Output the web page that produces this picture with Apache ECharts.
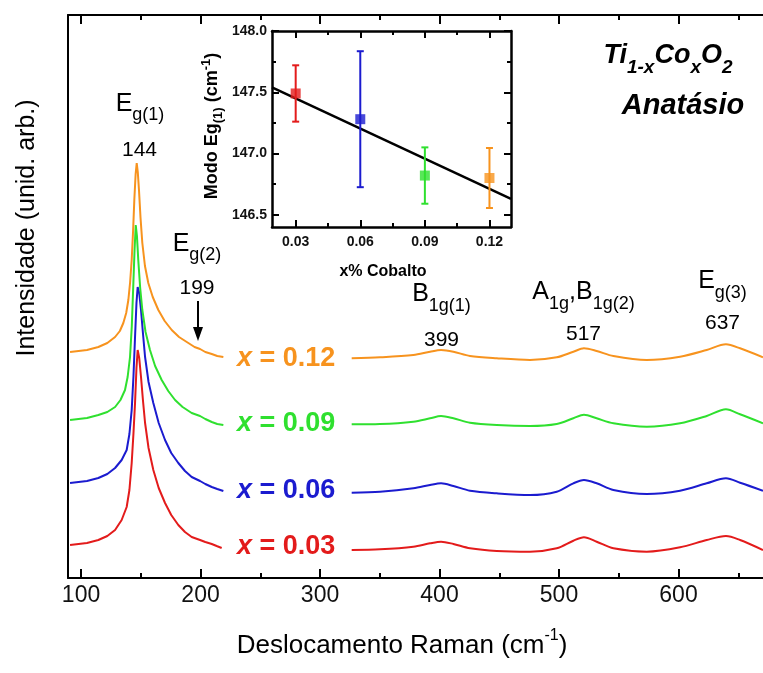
<!DOCTYPE html>
<html><head><meta charset="utf-8">
<script src="https://cdn.jsdelivr.net/npm/echarts@6/dist/echarts.min.js"></script>
<style>html,body{margin:0;padding:0;background:#fff}#c{width:763px;height:673px}</style>
</head><body><div id="c"></div>
<script>
// ---------------- DATA ----------------
const seriesNames = ['x = 0.03', 'x = 0.06', 'x = 0.09', 'x = 0.12'];
const seriesColors = ['#E31B1B', '#1B1BCF', '#2FE02F', '#F7931E'];

// Left segment (Eg(1) region) [Raman shift, intensity arb.]
const leftRed = [[90.8,33],[105,35],[114.5,38],[122,42],[128.5,48],[134,58],[138.2,71],[140.5,88],[142.4,115],[143.9,145],[145.2,175],[146.4,210],[147.4,228],[148.7,220],[150.2,201],[151.8,178],[153.6,155],[156.5,130],[160.5,108],[165,90],[170.3,75],[175.5,63],[181.4,53],[187,46],[192.6,41],[199.6,38],[204,36],[209.4,34],[213.5,32],[217.7,30]];
const leftBlue = [[90.8,95],[105,97],[114.5,100],[122,104],[128.5,110],[134,118],[138.2,128],[140.5,144],[142.4,168],[143.9,202],[145.2,241],[146.4,275],[147.4,291],[148.7,285],[150.2,268],[151.8,245],[153.6,221],[156.5,196],[160.5,175],[165,155],[170.3,138],[175.5,125],[181.4,115],[187,107],[192.6,101],[199.6,97],[204,94],[209.4,91],[214,89],[219.1,87]];
const leftGreen = [[90.8,158],[105,160],[114.5,163],[122,166],[128.5,171],[133,178],[136.8,188],[139,201],[141,221],[142.5,252],[143.8,295],[144.8,328],[145.8,353],[146.8,342],[147.9,318],[149.5,290],[151.3,268],[154,246],[157.7,228],[162,212],[167.5,198],[173,187],[178.7,178],[185,171],[192.6,165],[199.6,162],[204,159],[209.4,156],[214,154],[219.1,153]];
const leftOrange = [[90.8,226],[105,228],[114.5,231],[122,235],[128.5,241],[132.5,247],[135.4,255],[137.8,265],[139.6,278],[141.1,296],[142.4,318],[143.6,348],[144.6,378],[145.7,404],[146.6,415],[147.5,406],[148.5,388],[149.8,360],[151.3,335],[153.5,312],[156.3,295],[160,281],[164.7,268],[170,257],[175.9,248],[182,241],[189.8,235],[195,231],[199.6,229],[204,226],[209.4,224],[214,222],[219.1,221]];

// Right segment (B1g, A1g/B1g, Eg(3) region)
const rightX = [326.5,350.2,378.1,392.1,401.3,411.6,425.5,447.9,475.7,498.1,512,520.9,531.5,545.5,573.4,601.3,623.6,639.7,651.5,670.7];
const rightRed = [28,28.7,31.3,34.7,36.3,34,29.7,27,26.3,29.7,37.3,40.7,36.3,29.7,26.3,30.7,38,42,38,28];
const rightBlue = [85.3,86.3,89.7,93,94.7,92,87.3,84.7,83,86.3,94.7,98,94.7,88,84,87.3,94.7,99.7,95.3,87.3];
const rightGreen = [153.7,154,156.3,159.7,162,159.7,155.3,153,152,154,159.7,163.3,159.7,154.7,151.3,154.7,162,168.7,163.7,154.7];
const rightOrange = [219.7,220.7,223,226.3,228,226.3,222,219.7,218,220.7,226.3,229.7,227,222,218,221.3,228,233.7,229.7,220.7];

const mainXMajor = [100, 200, 300, 400, 500, 600];
const mainXMinor = [150, 250, 350, 450, 550, 650];
const mainXLabels = [100, 200, 300, 400, 500, 600];

// Inset: Eg(1) mode position vs Co content
const insetX = [0.03, 0.06, 0.09, 0.12];
const insetY = [147.49, 147.28, 146.82, 146.80];
const insetErr = [0.23, 0.555, 0.23, 0.245];
const fitX = [0.019, 0.130];
const fitY = [147.54, 146.63];
const insetXMajor = [0.03, 0.06, 0.09, 0.12];
const insetXMinor = [0.045, 0.075, 0.105];
const insetYMajor = [146.5, 147.0, 147.5, 148.0];
const insetYMinor = [146.75, 147.25, 147.75];

// ---------------- CHART ----------------
const FF = '"Liberation Sans", Arial, sans-serif';
const chart = echarts.init(document.getElementById('c'), null, {renderer: 'canvas'});
const mctx = document.createElement('canvas').getContext('2d');
function tw(t, font) { mctx.font = font; return mctx.measureText(t).width; }

function composite(parts, cx, cy, opt) {
  opt = opt || {};
  let total = 0;
  parts.forEach(p => {
    p.font = `${p.style || 'normal'} ${p.weight || 'normal'} ${p.size}px ${FF}`;
    p.w = tw(p.t, p.font);
    total += p.w;
  });
  let x0 = opt.align === 'left' ? 0 : -total / 2;
  const children = [];
  parts.forEach(p => {
    children.push({type: 'text', x: x0, y: p.dy || 0, silent: true,
      style: {text: p.t, font: p.font, fill: opt.color || '#000', textAlign: 'left', textVerticalAlign: 'middle'}});
    x0 += p.w;
  });
  return {type: 'group', x: cx, y: cy, rotation: opt.rotation || 0, scaleX: opt.sx || 1, children, z: 100};
}

function ax(o) {
  const base = {type: 'value', splitLine: {show: false}, axisLabel: {show: false},
    axisTick: {show: false}, axisLine: {show: false, onZero: false}};
  const r = Object.assign(base, o);
  if (o.axisLine) r.axisLine = Object.assign({onZero: false}, o.axisLine);
  return r;
}
const mainLine = {show: true, onZero: false, lineStyle: {color: '#000', width: 2}};
const insetLine = {show: true, onZero: false, lineStyle: {color: '#000', width: 2.5}};
const tick = (vals, len, w) => ({show: true, inside: true, length: len, customValues: vals, lineStyle: {color: '#000', width: w}});

const MXMIN = 89.1, MXMAX = 670.7;
const xAxes = [
  ax({gridIndex: 0, position: 'bottom', min: MXMIN, max: MXMAX, axisLine: mainLine, axisTick: tick(mainXMajor, 9, 2),
      axisLabel: {show: true, customValues: mainXLabels, color: '#111', fontSize: 23, fontFamily: FF, margin: 6}}),
  ax({gridIndex: 0, position: 'bottom', min: MXMIN, max: MXMAX, axisTick: tick(mainXMinor, 5, 2)}),
  ax({gridIndex: 0, position: 'top', min: MXMIN, max: MXMAX, axisLine: mainLine, axisTick: tick(mainXMajor, 9, 2)}),
  ax({gridIndex: 0, position: 'top', min: MXMIN, max: MXMAX, axisTick: tick(mainXMinor, 5, 2)}),
  ax({gridIndex: 1, position: 'bottom', min: 0.019, max: 0.130, axisLine: insetLine, axisTick: tick(insetXMajor, 7, 2),
      axisLabel: {show: true, customValues: insetXMajor, color: '#111', fontSize: 14, fontWeight: 'bold', fontFamily: FF, margin: 8,
        formatter: v => Number(v).toFixed(2)}}),
  ax({gridIndex: 1, position: 'bottom', min: 0.019, max: 0.130, axisTick: tick(insetXMinor, 4, 2)}),
  ax({gridIndex: 1, position: 'top', min: 0.019, max: 0.130, axisLine: insetLine, axisTick: tick(insetXMajor, 7, 2)}),
  ax({gridIndex: 1, position: 'top', min: 0.019, max: 0.130, axisTick: tick(insetXMinor, 4, 2)})
];
const yAxes = [
  ax({gridIndex: 0, position: 'left', min: 0, max: 563, axisLine: mainLine}),
  ax({gridIndex: 1, position: 'left', min: 146.4, max: 148.0, axisLine: insetLine, axisTick: tick(insetYMajor, 7, 2),
      axisLabel: {show: true, customValues: insetYMajor, color: '#111', fontSize: 14, fontWeight: 'bold', fontFamily: FF, margin: 5,
        formatter: v => Number(v).toFixed(1)}}),
  ax({gridIndex: 1, position: 'left', min: 146.4, max: 148.0, axisTick: tick(insetYMinor, 4, 2)}),
  ax({gridIndex: 1, position: 'right', min: 146.4, max: 148.0, axisLine: insetLine, axisTick: tick(insetYMajor, 7, 2)}),
  ax({gridIndex: 1, position: 'right', min: 146.4, max: 148.0, axisTick: tick(insetYMinor, 4, 2)})
];

const lefts = [leftRed, leftBlue, leftGreen, leftOrange];
const rights = [rightRed, rightBlue, rightGreen, rightOrange];
const series = [];
for (let i = 0; i < 4; i++) {
  series.push({type: 'line', name: seriesNames[i] + ' a', xAxisIndex: 0, yAxisIndex: 0, data: lefts[i],
    showSymbol: false, symbol: 'none', lineStyle: {color: seriesColors[i], width: 2}, itemStyle: {color: seriesColors[i]}, z: 3});
  series.push({type: 'line', name: seriesNames[i] + ' b', xAxisIndex: 0, yAxisIndex: 0, smooth: 0.3,
    data: rightX.map((x, k) => [x, rights[i][k]]),
    showSymbol: false, symbol: 'none', lineStyle: {color: seriesColors[i], width: 2}, itemStyle: {color: seriesColors[i]}, z: 3});
}
series.push({type: 'line', xAxisIndex: 4, yAxisIndex: 1, data: fitX.map((x, k) => [x, fitY[k]]),
  showSymbol: false, symbol: 'none', lineStyle: {color: '#000', width: 2.5}, z: 5});
series.push({type: 'custom', xAxisIndex: 4, yAxisIndex: 1, z: 6,
  data: insetX.map((x, k) => [x, insetY[k], insetErr[k]]),
  renderItem: function (params, api) {
    const x = api.value(0), y = api.value(1), e = api.value(2);
    const t = api.coord([x, y + e]), b = api.coord([x, y - e]);
    const c = seriesColors[params.dataIndex];
    const st = {stroke: c, lineWidth: 2};
    const hw = 3.5;
    return {type: 'group', children: [
      {type: 'line', shape: {x1: t[0], y1: t[1], x2: b[0], y2: b[1]}, style: st},
      {type: 'line', shape: {x1: t[0] - hw, y1: t[1], x2: t[0] + hw, y2: t[1]}, style: st},
      {type: 'line', shape: {x1: b[0] - hw, y1: b[1], x2: b[0] + hw, y2: b[1]}, style: st}
    ]};
  }});
series.push({type: 'scatter', xAxisIndex: 4, yAxisIndex: 1, symbol: 'rect', symbolSize: 10, z: 7,
  data: insetX.map((x, k) => ({value: [x, insetY[k]], itemStyle: {color: seriesColors[k]}}))});

// ---- text annotations ----
const graphic = [];
const big = 25, sub = 18;
graphic.push(composite([{t: 'E', size: big}, {t: 'g(1)', size: sub, dy: 11}], 140, 104));
graphic.push(composite([{t: '144', size: 21}], 139.5, 150));
graphic.push(composite([{t: 'E', size: big}, {t: 'g(2)', size: sub, dy: 11}], 197, 244));
graphic.push(composite([{t: '199', size: 21}], 197, 288));
graphic.push({type: 'line', shape: {x1: 198, y1: 301, x2: 198, y2: 331}, style: {stroke: '#000', lineWidth: 2}, z: 100});
graphic.push({type: 'polygon', shape: {points: [[193, 327], [203, 327], [198, 341]]}, style: {fill: '#000'}, z: 100});
graphic.push(composite([{t: 'B', size: big}, {t: '1g(1)', size: sub, dy: 12}], 441.5, 294));
graphic.push(composite([{t: '399', size: 21}], 441.5, 340));
graphic.push(composite([{t: 'A', size: big}, {t: '1g', size: sub, dy: 12}, {t: ',B', size: big}, {t: '1g(2)', size: sub, dy: 12}], 583.5, 292));
graphic.push(composite([{t: '517', size: 21}], 583.5, 334));
graphic.push(composite([{t: 'E', size: big}, {t: 'g(3)', size: sub, dy: 12}], 722.5, 281.5));
graphic.push(composite([{t: '637', size: 21}], 722.5, 323.5));
// title
const bi = {style: 'italic', weight: 'bold'};
graphic.push(composite([
  Object.assign({t: 'Ti', size: 27}, bi), Object.assign({t: '1-x', size: 19, dy: 12}, bi),
  Object.assign({t: 'Co', size: 27}, bi), Object.assign({t: 'x', size: 19, dy: 12}, bi),
  Object.assign({t: 'O', size: 27}, bi), Object.assign({t: '2', size: 19, dy: 12}, bi)], 668, 56));
graphic.push(composite([Object.assign({t: 'Anatásio', size: 29}, bi)], 683, 106));
// series labels
const labelY = [547, 491, 424, 358.5];
for (let i = 0; i < 4; i++) {
  graphic.push(composite([{t: 'x', size: 27, style: 'italic', weight: 'bold'}, {t: ' = ' + seriesNames[i].split('= ')[1], size: 27, weight: 'bold'}],
    237, labelY[i], {align: 'left', color: seriesColors[i]}));
}
// axis titles
graphic.push(composite([{t: 'Intensidade (unid. arb.)', size: 25}], 27, 228, {rotation: Math.PI / 2}));
graphic.push(composite([{t: 'Deslocamento Raman (cm', size: 26}, {t: '-1', size: 16, dy: -10}, {t: ')', size: 26}], 402, 646));
graphic.push(composite([{t: 'x% Cobalto', size: 16, weight: 'bold'}], 383, 272));
graphic.push(composite([{t: 'Modo Eg', size: 18, weight: 'bold'}, {t: '(1)', size: 13, weight: 'bold', dy: 6},
  {t: ' (cm', size: 18, weight: 'bold'}, {t: '-1', size: 13, weight: 'bold', dy: -6}, {t: ')', size: 18, weight: 'bold'}],
  212, 126, {rotation: Math.PI / 2}));

chart.setOption({
  animation: false,
  backgroundColor: '#fff',
  grid: [
    {left: 68, top: 15, right: 0, bottom: 95},
    {left: 272, top: 31, width: 239, height: 196}
  ],
  xAxis: xAxes,
  yAxis: yAxes,
  series: series,
  graphic: graphic
});
</script>
</body></html>
